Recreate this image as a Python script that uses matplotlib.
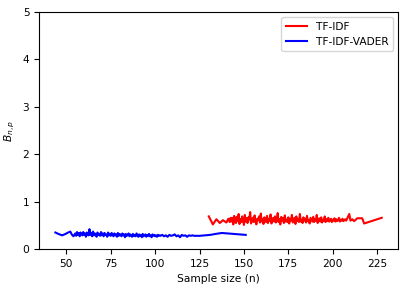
import numpy as np
import matplotlib
matplotlib.use('Agg')
import matplotlib.pyplot as plt

# TF-IDF (red) - sparse start, dense middle, sparse tail
red_x_start = [130.2, 132.5, 134.5, 136.4, 138.2, 140.1, 141.2, 142.0, 142.5]
red_y_start = [0.69, 0.52, 0.63, 0.55, 0.61, 0.56, 0.64, 0.57, 0.66]
red_y_dense = [
    0.58, 0.66, 0.52, 0.70, 0.61, 0.55, 0.68, 0.59, 0.74, 0.53,
    0.63, 0.57, 0.69, 0.60, 0.51, 0.72, 0.58, 0.65, 0.55, 0.67,
    0.62, 0.78, 0.54, 0.60, 0.66, 0.57, 0.71, 0.59, 0.52, 0.64,
    0.61, 0.69, 0.56, 0.75, 0.58, 0.63, 0.53, 0.67, 0.60, 0.57,
    0.70, 0.55, 0.64, 0.59, 0.73, 0.54, 0.62, 0.66, 0.58, 0.69,
    0.56, 0.61, 0.76, 0.57, 0.63, 0.52, 0.68, 0.60, 0.65, 0.55,
    0.71, 0.58, 0.62, 0.57, 0.67, 0.54, 0.64, 0.60, 0.72, 0.56,
    0.61, 0.66, 0.53, 0.69, 0.59, 0.63, 0.57, 0.74, 0.58, 0.62,
    0.55, 0.67, 0.60, 0.64, 0.56, 0.70, 0.59, 0.61, 0.54, 0.66,
    0.62, 0.58, 0.68, 0.57, 0.63, 0.60, 0.72, 0.55, 0.61, 0.65,
    0.58, 0.67, 0.56, 0.62, 0.60, 0.69, 0.57, 0.63, 0.59, 0.66,
    0.58, 0.61, 0.64, 0.57, 0.62, 0.60, 0.65, 0.58, 0.63, 0.59,
    0.61, 0.66, 0.58, 0.62, 0.60, 0.64, 0.59, 0.61, 0.63, 0.60,
]
red_x_dense = np.arange(143, 208, 0.5)
red_x_tail = [208.0, 209.3, 210.0, 211.0, 212.0, 213.0, 213.8, 216.6, 217.7, 227.6]
red_y_tail = [0.63, 0.74, 0.60, 0.63, 0.59, 0.62, 0.65, 0.65, 0.54, 0.66]

# TF-IDF-VADER (blue)
blue_x_start = [43.8, 45.5, 47.6, 49.5, 51.0, 52.2, 53.0, 54.0]
blue_y_start = [0.35, 0.32, 0.29, 0.32, 0.35, 0.37, 0.31, 0.27]
blue_y_dense = [
    0.33, 0.28, 0.36, 0.30, 0.34, 0.27, 0.35, 0.31, 0.29, 0.36,
    0.30, 0.33, 0.26, 0.35, 0.31, 0.29, 0.42, 0.30, 0.34, 0.27,
    0.37, 0.29, 0.33, 0.31, 0.26, 0.35, 0.30, 0.32, 0.28, 0.36,
    0.29, 0.33, 0.27, 0.34, 0.30, 0.31, 0.26, 0.35, 0.29, 0.32,
    0.28, 0.34, 0.30, 0.27, 0.33, 0.29, 0.31, 0.26, 0.34, 0.28,
    0.32, 0.30, 0.27, 0.33, 0.29, 0.31, 0.25, 0.32, 0.28, 0.30,
    0.33, 0.27, 0.31, 0.29, 0.26, 0.32, 0.28, 0.30, 0.27, 0.33,
    0.29, 0.26, 0.31, 0.28, 0.30, 0.25, 0.32, 0.27, 0.29, 0.31,
    0.26, 0.30, 0.28, 0.32, 0.27, 0.29, 0.25, 0.31, 0.28, 0.30,
    0.27, 0.29, 0.26, 0.30, 0.28, 0.29,
]
blue_x_dense = np.arange(55, 103, 0.5)
blue_x_mid = list(range(103, 123))
blue_y_mid = [0.28, 0.30, 0.27, 0.29, 0.26, 0.30, 0.28, 0.29, 0.31, 0.27,
              0.29, 0.25, 0.30, 0.28, 0.29, 0.26, 0.29, 0.28, 0.29, 0.28]
blue_x_tail = [125, 128, 131, 134, 137.5, 141, 145, 151]
blue_y_tail = [0.28, 0.29, 0.30, 0.32, 0.34, 0.33, 0.32, 0.30]

red_x = np.concatenate([red_x_start, red_x_dense, red_x_tail])
red_y = np.concatenate([red_y_start, red_y_dense, red_y_tail])
blue_x = np.concatenate([blue_x_start, blue_x_dense, blue_x_mid, blue_x_tail])
blue_y = np.concatenate([blue_y_start, blue_y_dense, blue_y_mid, blue_y_tail])

plt.rcParams['font.size'] = 7.7

fig = plt.figure(figsize=(4.07, 2.9), dpi=100)
ax = fig.add_axes([0.096, 0.141, 0.882, 0.818])
ax.plot(red_x, red_y, color='red', lw=1.5, label='TF-IDF')
ax.plot(blue_x, blue_y, color='blue', lw=1.5, label='TF-IDF-VADER')
ax.set_ylim(0, 5)
ax.set_xticks([50, 75, 100, 125, 150, 175, 200, 225])
ax.set_xlabel('Sample size (n)')
ax.set_ylabel('$B_{n,p}$')
ax.legend(loc='upper right')

fig.savefig('out.png', dpi=100)
